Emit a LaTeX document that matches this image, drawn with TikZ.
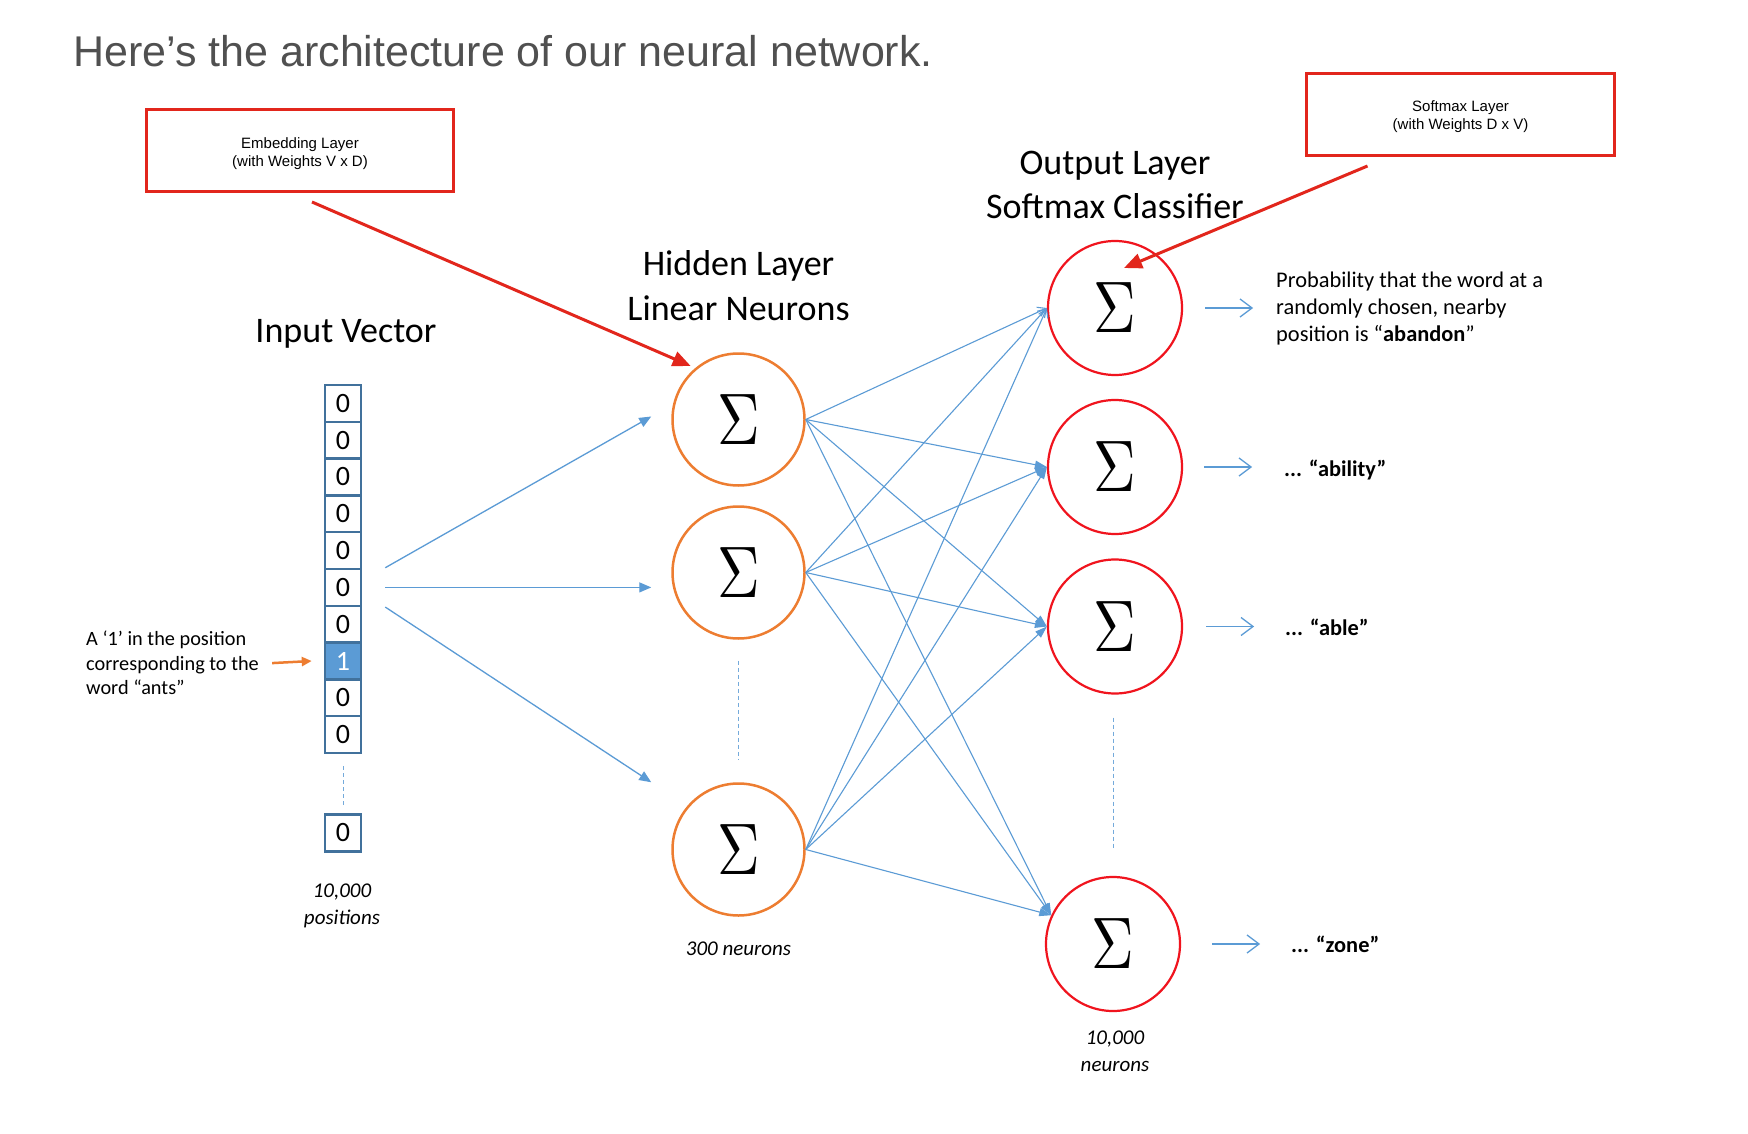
\documentclass[tikz,border=0pt]{standalone}
\usepackage{fontspec}
\setmainfont{Carlito}
\newfontfamily\helv{Liberation Sans}
\usepackage{graphicx}
\usepackage{xcolor}
\definecolor{netblue}{RGB}{91,155,213}
\definecolor{celledge}{RGB}{65,113,156}
\definecolor{hidorange}{RGB}{237,125,49}
\definecolor{outred}{RGB}{240,20,30}
\definecolor{notered}{RGB}{226,38,28}
\definecolor{titlegray}{RGB}{80,80,80}
\usetikzlibrary{arrows.meta, calc}
\newcommand{\sig}{\scalebox{5.9}[7.3]{\fontsize{10}{12}\selectfont$\Sigma$}}

\begin{document}
\begin{tikzpicture}[x=1pt, y=-1pt,
	cell/.style={draw=celledge, fill=white, line width=2.5, minimum width=36, minimum height=36.8, inner sep=0, font=\fontsize{28}{30}\selectfont},
	hot/.style={cell, fill=netblue, text=white},
	neuron/.style={circle, fill=white, inner sep=0},
	hidnode/.style={neuron, draw=hidorange, line width=2.5, minimum size=132},
	outnode/.style={neuron, draw=outred, line width=2.2, minimum size=134},
	notebox/.style={draw=notered, line width=3, align=center, font=\helv\fontsize{15}{18}\selectfont},
	notearrow/.style={draw=notered, line width=3, -{Triangle[length=18pt,width=15pt]}},
	inarrow/.style={draw=netblue, line width=1.3, -{Triangle[length=12pt,width=10pt]}},
	link/.style={draw=netblue, line width=1.1, -{Triangle[length=12pt,width=8pt]}},
	linkbarb/.style={draw=netblue, line width=1.1, -{Straight Barb[length=8pt,width=10pt]}},
	outarrow/.style={draw=netblue, line width=1.3, -{Straight Barb[length=12pt,width=18pt]}},
	dotline/.style={draw=netblue!85, line width=1, dash pattern=on 4pt off 3pt},
	antsarrow/.style={draw=hidorange, line width=2.5, -{Triangle[length=10pt,width=9pt]}},
	heading/.style={inner sep=0, align=center, font=\fontsize{36}{45}\selectfont},
	italiccap/.style={inner sep=0, align=center, font=\fontsize{21}{26.8}\selectfont\itshape}]

	\fill[white] (0,0) rectangle (1748,1134);
	\useasboundingbox (0,0) rectangle (1748,1134);

	\node[anchor=base west, inner sep=0, text=titlegray, font=\helv\fontsize{43}{50}\selectfont] (title) at (73,67) {Here’s the architecture of our neural network.};

	\node[notebox, minimum width=307, minimum height=82] (emb) at (300,150.5) {\rule{0pt}{17pt}Embedding Layer\\(with Weights V x D)};
	\node[notebox, minimum width=308, minimum height=82] (soft) at (1460.5,114.5) {\rule{0pt}{16pt}Softmax Layer\\(with Weights D x V)};

	\node[heading, anchor=base] (inlabel) at (346,342) {Input Vector};
	\node[heading, anchor=north] (hidlabel) at (738.5,250) {Hidden Layer\\Linear Neurons};
	\node[heading, anchor=north, font=\fontsize{36}{44}\selectfont] (outlabel) at (1115,151) {Output Layer\\Softmax Classifier};

	\node[cell] (c0) at (343,403.4) {0};
	\node[cell] (c1) at (343,440.2) {0};
	\node[cell] (c2) at (343,477) {0};
	\node[cell] (c3) at (343,513.8) {0};
	\node[cell] (c4) at (343,550.6) {0};
	\node[cell] (c5) at (343,587.4) {0};
	\node[cell] (c6) at (343,624.2) {0};
	\node[hot] (c7) at (343,661) {1};
	\node[cell] (c8) at (343,697.8) {0};
	\node[cell] (c9) at (343,734.6) {0};
	\node[cell] (c10) at (343,833) {0};
	\draw[dotline] ($(c9.south)+(0,12)$) -- ($(c10.north)+(0,-7)$);
	\node[italiccap, anchor=north] (vcap) at (342,884) {10,000\\positions};

	\node[anchor=north west, inner sep=0, align=left, font=\fontsize{20.3}{24.5}\selectfont] (ants) at (86,631) {A ‘1’ in the position\\corresponding to the\\word “ants”};
	\draw[antsarrow] ($(ants.east)+(13,0)$) -- ($(c7.west)+(-12,0)$);

	\node[hidnode] (h1) at (738.5,419.5) {\sig};
	\node[hidnode] (h2) at (738.5,572.5) {\sig};
	\node[hidnode] (h3) at (738.5,849.5) {\sig};
	\draw[dotline] ($(h2.south)+(0,21)$) -- ($(h3.north)+(0,-23)$);
	\node[italiccap, anchor=base] (hcap) at (738.5,955) {300 neurons};

	\node[outnode] (o1) at (1115,308) {\sig};
	\node[outnode] (o2) at (1115,467) {\sig};
	\node[outnode] (o3) at (1115,626.5) {\sig};
	\node[outnode] (o4) at (1113,944) {\sig};
	\draw[dotline] ($(o3.south -| o4.north)+(0,23)$) -- ($(o4.north)+(0,-26)$);
	\node[italiccap, anchor=north] (ocap) at (1115,1031) {10,000\\neurons};

	\draw[inarrow] ($(c5.north east)+(23,0)$) -- ($(h1.west)+(-20,-3)$);
	\draw[inarrow] ($(c5.east)+(23,0)$) -- ($(c5.east -| h2.west)+(-20,0)$);
	\draw[inarrow] ($(c5.south east)+(23,0)$) -- ($(h3.west |- h3.north)+(-20,0)$);

	\draw[linkbarb] (h1.east) -- (o1.west);
	\draw[linkbarb] (h2.east) -- (o1.west);
	\draw[linkbarb] (h3.east) -- (o1.west);
	\draw[link] (h1.east) -- (o2.west);
	\draw[link] (h2.east) -- (o2.west);
	\draw[link] (h3.east) -- (o2.west);
	\draw[link] (h1.east) -- (o3.west);
	\draw[link] (h2.east) -- (o3.west);
	\draw[link] (h3.east) -- (o3.west);
	\draw[link] (h1.east) -- (o4.155);
	\draw[link] (h2.east) -- (o4.155);
	\draw[link] (h3.east) -- (o4.155);

	\draw[outarrow] ($(o1.east)+(22,0)$) -- ++(48,0);
	\draw[outarrow] ($(o2.east)+(21,0)$) -- ++(48,0);
	\draw[outarrow] ($(o3.east)+(23,0)$) -- ++(48,0);
	\draw[outarrow] ($(o4.east)+(31,0)$) -- ++(48,0);

	\node[anchor=north west, inner sep=0, align=left, font=\fontsize{22.4}{26.8}\selectfont] (p1) at (1276,272) {Probability that the word at a\\randomly chosen, nearby\\position is “\textbf{abandon}”};
	\node[anchor=base west, inner sep=0, font=\fontsize{22.4}{27}\selectfont\bfseries] (p2) at (1284,476) {... “ability”};
	\node[anchor=base west, inner sep=0, font=\fontsize{22.4}{27}\selectfont\bfseries] (p3) at (1285,635) {... “able”};
	\node[anchor=base west, inner sep=0, font=\fontsize{22.4}{27}\selectfont\bfseries] (p4) at (1291,952) {... “zone”};

	\draw[notearrow, shorten >=5pt] ($(emb.south)+(12,9)$) -- (h1.130);
	\draw[notearrow] ($(soft.south)+(-93,9)$) -- ($(o1.center)+(9,-40)$);
\end{tikzpicture}
\end{document}
